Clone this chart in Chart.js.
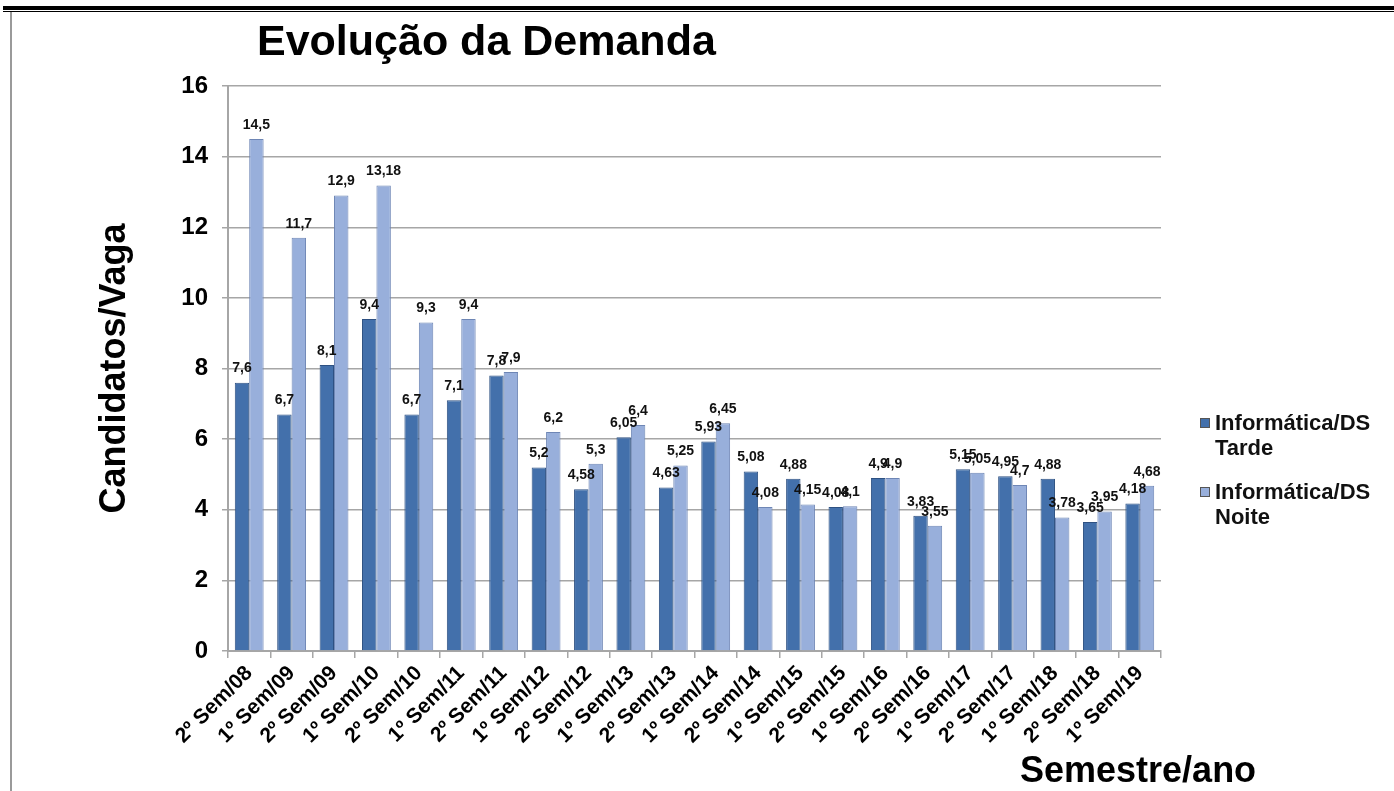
<!DOCTYPE html>
<html>
<head>
<meta charset="utf-8">
<script src="https://cdn.jsdelivr.net/npm/chart.js@4/dist/chart.umd.min.js"></script>
<style>
  html, body { margin: 0; padding: 0; background: #fff; }
  #wrap { position: relative; width: 1394px; height: 791px; overflow: hidden; font-family: "Liberation Sans", Arial, sans-serif; }
  #c { position: absolute; left: 0; top: 0; }
  .line1 { position: absolute; left: 3px; top: 6px; width: 1391px; height: 4px; background: #000; }
  .line2 { position: absolute; left: 3px; top: 11px; width: 1391px; height: 1px; background: #000; }
  .lborder { position: absolute; left: 10px; top: 12px; width: 2px; height: 779px; background: #9a9a9a; }
  #title { position: absolute; left: 257px; top: 16px; font-weight: bold; font-size: 43px; line-height: 48px; color: #000; white-space: nowrap; }
  #xtitle { position: absolute; left: 1020px; top: 750px; font-weight: bold; font-size: 36px; line-height: 40px; color: #000; white-space: nowrap; }
  #legend { position: absolute; left: 1200px; top: 410px; font-weight: bold; font-size: 22px; line-height: 25px; color: #111; }
  .item { position: relative; padding-left: 15px; margin-bottom: 19px; white-space: nowrap; }
  .sw { position: absolute; left: 0; top: 8px; width: 10px; height: 10px; box-sizing: border-box; border: 1px solid #555; }
</style>
</head>
<body>
<div id="wrap">
  <canvas id="c" width="1394" height="791"></canvas>
  <div class="line1"></div><div class="line2"></div><div class="lborder"></div>
  <div id="title">Evolução da Demanda</div>
  <div id="xtitle">Semestre/ano</div>
  <div id="legend"></div>
</div>
<script>
const categories = ["2º Sem/08","1º Sem/09","2º Sem/09","1º Sem/10","2º Sem/10","1º Sem/11","2º Sem/11","1º Sem/12","2º Sem/12","1º Sem/13","2º Sem/13","1º Sem/14","2º Sem/14","1º Sem/15","2º Sem/15","1º Sem/16","2º Sem/16","1º Sem/17","2º Sem/17","1º Sem/18","2º Sem/18","1º Sem/19"];
const tarde = [7.6, 6.7, 8.1, 9.4, 6.7, 7.1, 7.8, 5.2, 4.58, 6.05, 4.63, 5.93, 5.08, 4.88, 4.08, 4.9, 3.83, 5.15, 4.95, 4.88, 3.65, 4.18];
const noite = [14.5, 11.7, 12.9, 13.18, 9.3, 9.4, 7.9, 6.2, 5.3, 6.4, 5.25, 6.45, 4.08, 4.15, 4.1, 4.9, 3.55, 5.05, 4.7, 3.78, 3.95, 4.68];
const seriesNames = ["Informática/DS Tarde", "Informática/DS Noite"];
const yTicks = [0, 2, 4, 6, 8, 10, 12, 14, 16];

const colTarde = "#4370AB", colTardeBorder = "#2E5182";
const colNoite = "#98AFDB", colNoiteBorder = "#6E86B5";
const FONT = "'Liberation Sans', Arial, sans-serif";

const dataLabels = {
  id: "dataLabels",
  afterDatasetsDraw(chart) {
    const ctx = chart.ctx;
    ctx.save();
    ctx.font = "bold 14px " + FONT;
    ctx.fillStyle = "#111";
    ctx.textAlign = "center";
    ctx.textBaseline = "bottom";
    chart.data.datasets.forEach((ds, di) => {
      const meta = chart.getDatasetMeta(di);
      meta.data.forEach((bar, i) => {
        const v = ds.data[i];
        ctx.fillText(String(v).replace(".", ","), bar.x, bar.y - 7);
      });
    });
    ctx.restore();
  }
};

const chart = new Chart(document.getElementById("c"), {
  type: "bar",
  data: {
    labels: categories,
    datasets: [
      { label: seriesNames[0], data: tarde, backgroundColor: colTarde, borderColor: colTardeBorder, borderWidth: 1 },
      { label: seriesNames[1], data: noite, backgroundColor: colNoite, borderColor: colNoiteBorder, borderWidth: 1 }
    ]
  },
  options: {
    responsive: false,
    animation: false,
    layout: { padding: { left: 89, right: 233, top: 86, bottom: 0 } },
    datasets: { bar: { categoryPercentage: 0.68, barPercentage: 1.0 } },
    plugins: { legend: { display: false }, tooltip: { enabled: false }, title: { display: false } },
    scales: {
      x: {
        afterFit(scale) { scale.height = 140; },
        grid: { display: true, drawOnChartArea: false, drawTicks: true, tickLength: 7, color: "#A6A6A6", lineWidth: 1.5, offset: true },
        border: { display: true, color: "#A6A6A6", width: 2 },
        ticks: { autoSkip: false, minRotation: 45, maxRotation: 45, color: "#000", font: { family: FONT, size: 21, weight: "bold" }, padding: 3 }
      },
      y: {
        min: 0, max: 16,
        afterFit(scale) { scale.width = 139; },
        afterBuildTicks(scale) { scale.ticks = yTicks.map(v => ({ value: v })); },
        grid: { color: "#A6A6A6", lineWidth: 1.5, tickLength: 6 },
        border: { display: true, color: "#A6A6A6", width: 2 },
        ticks: { color: "#000", font: { family: FONT, size: 24, weight: "bold" }, padding: 14 },
        title: { display: true, text: "Candidatos/Vaga", color: "#000", font: { family: FONT, size: 36, weight: "bold" }, padding: { top: 4, bottom: 4 } }
      }
    }
  },
  plugins: [dataLabels]
});

// HTML legend built from the chart's datasets
const legend = document.getElementById("legend");
chart.data.datasets.forEach(ds => {
  const idx = ds.label.lastIndexOf(" ");
  const item = document.createElement("div");
  item.className = "item";
  const sw = document.createElement("span");
  sw.className = "sw";
  sw.style.background = ds.backgroundColor;
  item.appendChild(sw);
  item.appendChild(document.createTextNode(ds.label.slice(0, idx)));
  item.appendChild(document.createElement("br"));
  item.appendChild(document.createTextNode(ds.label.slice(idx + 1)));
  legend.appendChild(item);
});
</script>
</body>
</html>
